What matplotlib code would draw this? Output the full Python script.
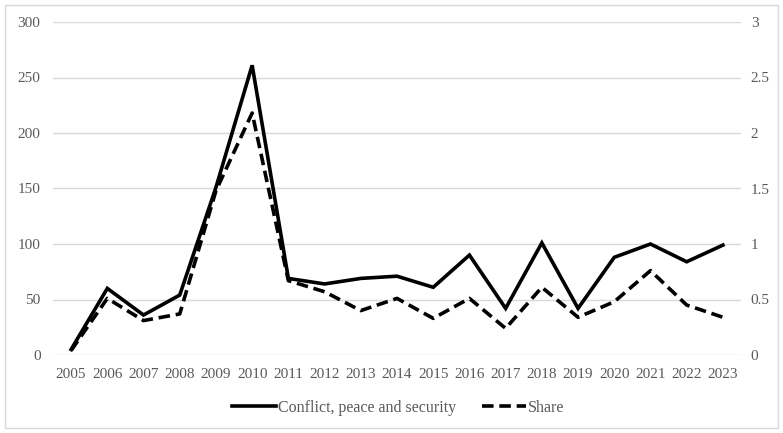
import matplotlib.pyplot as plt
from matplotlib.patches import Rectangle

years = list(range(2005, 2024))
conflict = [5, 60, 36, 54, 151, 261, 69, 64, 69, 71, 61, 90, 42, 101, 42, 88, 100, 84, 99]
share = [0.04, 0.51, 0.31, 0.37, 1.48, 2.18, 0.67, 0.57, 0.40, 0.51, 0.33, 0.51,
         0.24, 0.61, 0.34, 0.48, 0.76, 0.45, 0.34]

left_ticks = [0, 50, 100, 150, 200, 250, 300]
right_ticks = [0, 0.5, 1, 1.5, 2, 2.5, 3]
right_labels = ['0', '0.5', '1', '1.5', '2', '2.5', '3']

plt.rcParams['font.family'] = ['Liberation Serif', 'DejaVu Serif']
text_col = '#595959'
grid_col = '#d9d9d9'

fig = plt.figure(figsize=(7.83, 4.33), dpi=100)
ax = fig.add_axes([53 / 783, 1 - 355 / 433, 688 / 783, 333 / 433])
ax2 = ax.twinx()

# gridlines for the left axis
for t in left_ticks:
    ax.axhline(t, color=grid_col, lw=1.0, zorder=0)

l1, = ax.plot(years, conflict, color='black', lw=2.6, solid_joinstyle='miter',
              label='Conflict, peace and security', zorder=3)
l2, = ax2.plot(years, share, color='black', lw=2.6, dashes=(3.2, 1.6),
               label='Share', zorder=3)

ax.set_xlim(2004.5, 2023.5)
ax.set_ylim(0, 300)
ax2.set_ylim(0, 3)
ax.set_xticks(years)
ax.set_yticks(left_ticks)
ax2.set_yticks(right_ticks)
ax2.set_yticklabels(right_labels)

for a in (ax, ax2):
    for s in a.spines.values():
        s.set_visible(False)
    a.tick_params(length=0, colors=text_col, labelsize=11)
ax.tick_params(axis='y', pad=9)
ax.tick_params(axis='x', pad=9)
ax2.tick_params(axis='y', pad=7)

leg = fig.legend(handles=[l1, l2], loc='center',
                 bbox_to_anchor=(398 / 783, 1 - 408 / 433),
                 ncol=2, frameon=False, fontsize=11.5, handlelength=2.8,
                 handletextpad=0.1, columnspacing=1.6)
for t in leg.get_texts():
    t.set_color(text_col)

# outer chart border
fig.patches.append(Rectangle((5 / 783, 5 / 433), 773 / 783, 423 / 433,
                             transform=fig.transFigure, fill=False,
                             edgecolor=grid_col, lw=1.0))

fig.savefig('out.png', dpi=100)
